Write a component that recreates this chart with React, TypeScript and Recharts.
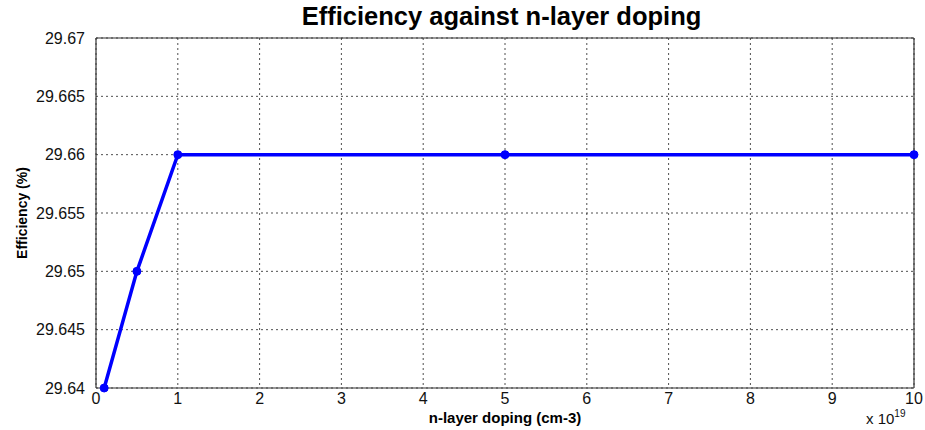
import { LineChart, Line, XAxis, YAxis, CartesianGrid, ReferenceLine, Label } from 'recharts'

// doping in units of 1e19 cm-3, efficiency in %
const doping = [0.1, 0.5, 1, 5, 10]
const efficiency = [29.64, 29.65, 29.66, 29.66, 29.66]
const xTicks = [0, 1, 2, 3, 4, 5, 6, 7, 8, 9, 10]
const yTicks = [29.64, 29.645, 29.65, 29.655, 29.66, 29.665, 29.67]

const data = doping.map((d, i) => ({ doping: d, eff: efficiency[i] }))

const FONT = 'Arial, "Liberation Sans", sans-serif'

export default function App() {
  return (
    <div style={{ position: 'absolute', left: 0, top: 0, width: 925, height: 430, background: '#fff', fontFamily: FONT }}>
      <div
        style={{
          position: 'absolute',
          left: 0,
          width: 1003,
          top: 2,
          textAlign: 'center',
          fontSize: 25.5,
          fontWeight: 'bold',
          color: '#000',
        }}
      >
        Efficiency against n-layer doping
      </div>
      <LineChart
        width={925}
        height={430}
        data={data}
        margin={{ top: 38, right: 11, left: 36, bottom: 12 }}
      >
        <CartesianGrid stroke="#222" strokeDasharray="2 3" strokeWidth={0.8} />
        <XAxis
          type="number"
          dataKey="doping"
          domain={[0, 10]}
          ticks={xTicks}
          interval={0}
          height={30}
          axisLine={{ stroke: '#333', strokeWidth: 1.2 }}
          tickLine={false}
          tick={{ fontSize: 16, fill: '#111', fontFamily: FONT }}
          tickMargin={-1}
        >
          <Label
            value="n-layer doping (cm-3)"
            position="insideBottom"
            offset={-5}
            style={{ fontSize: 15, fontWeight: 'bold', fill: '#000', fontFamily: FONT }}
          />
        </XAxis>
        <YAxis
          type="number"
          domain={[29.64, 29.67]}
          ticks={yTicks}
          interval={0}
          width={60}
          axisLine={{ stroke: '#333', strokeWidth: 1.2 }}
          tickLine={false}
          tick={{ fontSize: 16, fill: '#111', fontFamily: FONT }}
          tickMargin={5}
        >
          <Label
            value="Efficiency (%)"
            angle={-90}
            position="insideLeft"
            offset={-14}
            style={{ fontSize: 14, fontWeight: 'bold', fill: '#000', fontFamily: FONT, textAnchor: 'middle' }}
          />
        </YAxis>
        <ReferenceLine y={29.67} stroke="#333" strokeWidth={1.2} />
        <ReferenceLine x={10} stroke="#333" strokeWidth={1.2} />
        <Line
          type="linear"
          dataKey="eff"
          stroke="#0000ff"
          strokeWidth={3.5}
          dot={{ r: 4, fill: '#0000ff', stroke: '#0000ff', strokeWidth: 1 }}
          isAnimationActive={false}
        />
      </LineChart>
      <div style={{ position: 'absolute', left: 866, top: 411, fontSize: 15, color: '#111', lineHeight: '16px' }}>
        x 10<sup style={{ fontSize: 10, verticalAlign: 'top', position: 'relative', top: -5 }}>19</sup>
      </div>
    </div>
  )
}
